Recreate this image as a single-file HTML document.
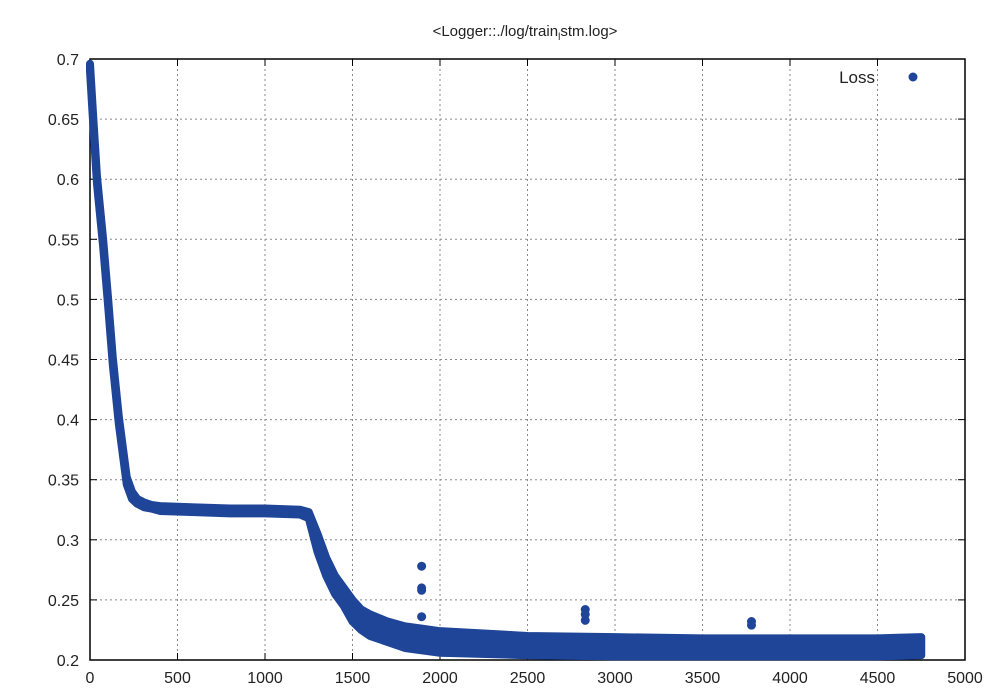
<!DOCTYPE html>
<html><head><meta charset="utf-8"><style>
body{margin:0;background:#fff}
svg{display:block;font-family:"Liberation Sans",sans-serif}
</style></head><body>
<svg id="c" width="1000" height="700"></svg>
<script>
const iters=[0,20,40,75,105,130,165,210,240,270,310,350,400,600,800,1000,1200,1250,1300,1350,1400,1450,1500,1550,1600,1700,1800,1900,2000,2500,3000,3500,4000,4500,4750];
const lossHi=[.696,.648,.602,.55,.498,.452,.402,.352,.34,.334,.331,.329,.328,.327,.326,.326,.325,.323,.305,.285,.27,.26,.25,.242,.238,.232,.228,.226,.224,.22,.219,.218,.218,.218,.219];
const lossLo=[.690,.642,.596,.544,.492,.446,.396,.346,.334,.330,.327,.326,.324,.323,.322,.322,.321,.318,.29,.27,.255,.245,.232,.225,.22,.215,.21,.208,.206,.204,.203,.203,.203,.203,.204];
const outX=[1895,1895,1895,1895,2830,2830,2830,3780,3780];
const outY=[.278,.26,.258,.236,.242,.238,.233,.232,.229];
const xTicks=[0,500,1000,1500,2000,2500,3000,3500,4000,4500,5000];
const yTicks=[0.2,0.25,0.3,0.35,0.4,0.45,0.5,0.55,0.6,0.65,0.7];
const X0=90,X1=965,Y0=660,Y1=59;
const sx=v=>X0+(v-0)/5000*(X1-X0);
const sy=v=>Y0-(v-0.2)/0.5*(Y0-Y1);
const NS='http://www.w3.org/2000/svg';
const svg=document.getElementById('c');
function mk(t,a,p){const e=document.createElementNS(NS,t);for(const k in a)e.setAttribute(k,a[k]);(p||svg).appendChild(e);return e;}
const col='#1f4599';
xTicks.forEach((t,i)=>{
 const x=sx(t);
 if(i>0&&i<xTicks.length-1){const g=mk('line',{x1:x,x2:x,y1:Y1,y2:Y0,stroke:'#888','stroke-dasharray':'2,3'});
 
 }
 mk('line',{x1:x,x2:x,y1:Y0,y2:Y0-7,stroke:'#000'});mk('line',{x1:x,x2:x,y1:Y1,y2:Y1+7,stroke:'#000'});
 const l=mk('text',{x:x,y:683,'text-anchor':'middle','font-size':16,fill:'#222'});l.textContent=t;
 
 
});
yTicks.forEach((t,i)=>{
 const y=sy(t);
 if(i>0&&i<yTicks.length-1){const g=mk('line',{x1:X0,x2:X1,y1:y,y2:y,stroke:'#888','stroke-dasharray':'2,3'});
 
 }
 mk('line',{x1:X0,x2:X0+7,y1:y,y2:y,stroke:'#000'});mk('line',{x1:X1,x2:X1-7,y1:y,y2:y,stroke:'#000'});
 const l=mk('text',{x:79,y:y+6,'text-anchor':'end','font-size':16,fill:'#222'});l.textContent=String(t);
 
 
});
const fr=mk('rect',{x:X0,y:Y1,width:X1-X0,height:Y0-Y1,fill:'none',stroke:'#000','stroke-width':1.5});


let pts=iters.map((v,i)=>sx(v)+','+sy(lossHi[i]));
pts=pts.concat(iters.map((v,i)=>sx(v)+','+sy(lossLo[i])).reverse());
const band=mk('polygon',{points:pts.join(' '),fill:col,stroke:col,'stroke-width':8,'stroke-linejoin':'round'});


outX.forEach((v,i)=>{const c=mk('circle',{cx:sx(v),cy:sy(outY[i]),r:4.5,fill:col});
 
 });
const t=mk('text',{x:525,y:36,'text-anchor':'middle','font-size':15,fill:'#222'});
t.innerHTML='&lt;Logger::./log/train<tspan font-size="10" dy="4">l</tspan><tspan dy="-4">stm.log&gt;</tspan>';


const lg=mk('text',{x:875,y:83,'text-anchor':'end','font-size':17,fill:'#222'});lg.textContent='Loss';


const lm=mk('circle',{cx:913,cy:77,r:4.5,fill:col});


</script>
</body></html>
